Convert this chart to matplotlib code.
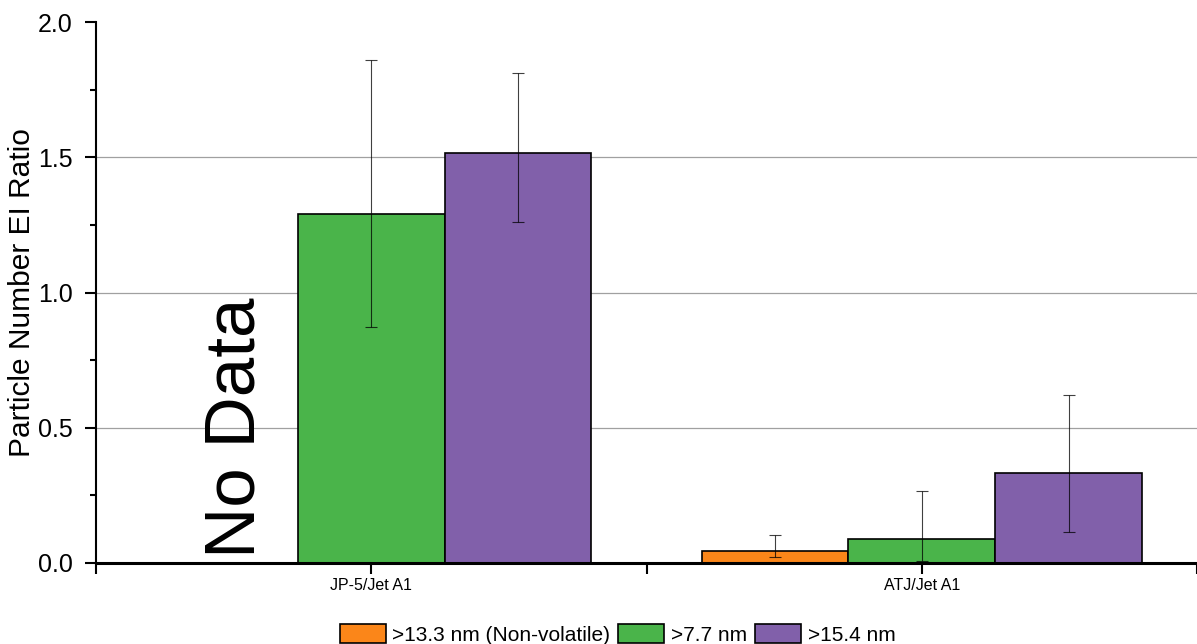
import matplotlib
matplotlib.use("Agg")
import matplotlib.pyplot as plt
import matplotlib.ticker as ticker
import numpy as np

plt.rcParams.update({
    "font.family": ["Liberation Sans", "DejaVu Sans"],
})

GROUPS = ["JP-5/Jet A1", "ATJ/Jet A1"]
SERIES = [">13.3 nm (Non-volatile)", ">7.7 nm", ">15.4 nm"]
COLORS = ["#fb8619", "#4ab44a", "#8160aa"]

# values per series, one entry per group (None = no data)
nonvol = [None, 0.043]
nonvol_lo = [None, 0.022]
nonvol_hi = [None, 0.102]

d77 = [1.289, 0.089]
d77_lo = [0.872, 0.007]
d77_hi = [1.861, 0.266]

d154 = [1.516, 0.333]
d154_lo = [1.261, 0.115]
d154_hi = [1.811, 0.621]

values = [nonvol, d77, d154]
lows = [nonvol_lo, d77_lo, d154_lo]
highs = [nonvol_hi, d77_hi, d154_hi]

fig = plt.figure(figsize=(11.97, 6.44), dpi=100)
ax = fig.add_axes([96 / 1197, 1 - 563 / 644, (1197 - 96) / 1197, (563 - 22) / 644])

x = np.arange(1, len(GROUPS) + 1)
width = 0.8 / 3
handles = []
for i, (vals, lo, hi, name, color) in enumerate(zip(values, lows, highs, SERIES, COLORS)):
    xs, ys, el, eh = [], [], [], []
    for g, v in enumerate(vals):
        if v is None:
            continue
        xs.append(x[g] + (i - 1) * width)
        ys.append(v)
        el.append(v - lo[g])
        eh.append(hi[g] - v)
    b = ax.bar(xs, ys, width=width, color=color, edgecolor="black",
               linewidth=1.2, label=name, zorder=3)
    ax.errorbar(xs, ys, yerr=[el, eh], fmt="none", ecolor="black",
                elinewidth=0.8, capsize=4.5, capthick=0.8, alpha=0.75, zorder=4)
    handles.append(b)

ax.text(x[0] - width + 0.022, 0.02, "No Data", rotation=90, fontsize=51,
        ha="center", va="bottom", zorder=5)

ax.set_xlim(0.5, 2.5)
ax.set_ylim(0, 2.0)
ax.set_xticks(x)
ax.set_xticklabels(GROUPS, fontsize=11.5)
ax.xaxis.set_minor_locator(ticker.FixedLocator([0.5, 1.5, 2.5]))
ax.yaxis.set_major_locator(ticker.MultipleLocator(0.5))
ax.yaxis.set_minor_locator(ticker.MultipleLocator(0.25))
ax.yaxis.set_major_formatter(ticker.FormatStrFormatter("%.1f"))
ax.tick_params(axis="y", labelsize=18, length=8, width=1.5, direction="out", pad=9)
ax.tick_params(axis="y", which="minor", length=4.5, width=1.5)
ax.tick_params(axis="x", which="both", length=8, width=1.5, labelsize=11.5, pad=3)

for gy in [0.5, 1.0, 1.5]:
    ax.axhline(gy, color="#a0a0a0", linewidth=0.9, zorder=1)

for s in ["top", "right"]:
    ax.spines[s].set_visible(False)
ax.spines["left"].set_linewidth(1.5)
ax.spines["bottom"].set_linewidth(2.2)
ax.spines["bottom"].set_zorder(6)

ax.set_ylabel("Particle Number EI Ratio", fontsize=21.5)
ax.yaxis.set_label_coords(-0.0545, 0.5)

fig.legend(handles=handles, labels=SERIES, loc="lower center",
           bbox_to_anchor=(0.516, -0.03), ncol=3, frameon=False, fontsize=15,
           handlelength=2.2, handleheight=1.05, handletextpad=0.33, columnspacing=0.38)

fig.savefig("out.png", dpi=100)
